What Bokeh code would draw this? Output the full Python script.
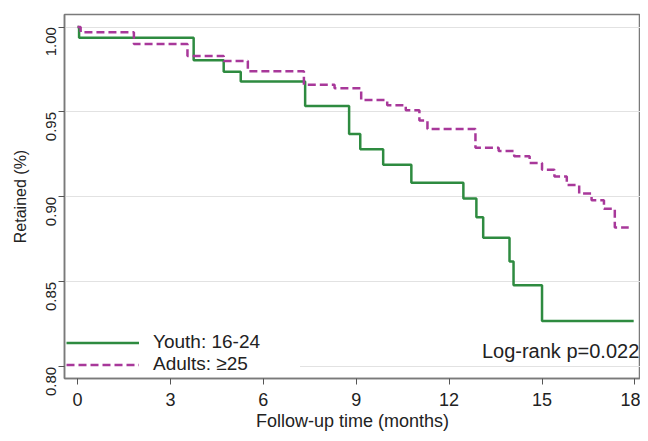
from bokeh.plotting import figure
from bokeh.models import Range1d, FixedTicker, Legend, LegendItem, Label
from bokeh.embed import file_html
from bokeh.resources import INLINE
import math

# ---- data ----
youth_time = [0, 0.05, 3.75, 4.72, 5.27, 7.35, 8.77, 9.13, 9.87, 10.78, 12.46, 12.88, 13.1, 13.95, 14.08, 15.0, 17.96]
youth_surv = [1.0, 0.9937, 0.9805, 0.9737, 0.968, 0.9536, 0.937, 0.928, 0.919, 0.9084, 0.899, 0.888, 0.876, 0.862, 0.848, 0.827, 0.827]

adult_time = [0, 0.1, 1.82, 3.55, 4.72, 5.5, 7.31, 8.3, 9.16, 10.0, 10.6, 11.04, 11.3, 12.85, 13.6, 14.1, 14.6, 15.0, 15.4, 15.8, 16.2, 16.6, 17.0, 17.35, 17.8]
adult_surv = [1.0, 0.997, 0.990, 0.983, 0.980, 0.974, 0.966, 0.964, 0.957, 0.954, 0.951, 0.945, 0.940, 0.929, 0.927, 0.924, 0.920, 0.916, 0.912, 0.907, 0.902, 0.898, 0.893, 0.882, 0.882]

x_ticks = [0, 3, 6, 9, 12, 15, 18]
y_ticks = [0.80, 0.85, 0.90, 0.95, 1.00]
y_tick_labels = ["0.80", "0.85", "0.90", "0.95", "1.00"]

series_labels = ["Youth: 16-24", "Adults: \u226525"]
annotation = "Log-rank p=0.022"

FONT = "Liberation Sans"
TXT = "#222222"
GREEN = "#2e8b40"
MAGENTA = "#a8389a"

p = figure(width=640, height=433, output_backend="svg", toolbar_location=None,
           x_range=Range1d(-0.421, 18.18), y_range=Range1d(0.7931, 1.0074),
           min_border_left=64, min_border_right=0, min_border_top=14, min_border_bottom=45)

p.outline_line_color = "#7a7a7a"
p.outline_line_width = 1.5
p.background_fill_color = "white"

# grid
p.xgrid.grid_line_color = None
p.ygrid.grid_line_color = "#e2e2e2"
p.ygrid.grid_line_width = 1
p.ygrid.ticker = FixedTicker(ticks=y_ticks)

# axes
p.xaxis.ticker = FixedTicker(ticks=x_ticks)
p.yaxis.ticker = FixedTicker(ticks=y_ticks)
p.yaxis.major_label_overrides = {t: l for t, l in zip(y_ticks, y_tick_labels)}
p.yaxis.major_label_orientation = math.pi / 2
p.xaxis.axis_label = "Follow-up time (months)"
p.yaxis.axis_label = "Retained (%)"
for ax in (p.xaxis, p.yaxis):
    ax.axis_line_color = "#7a7a7a"
    ax.axis_line_width = 1.5
    ax.major_tick_line_color = "#555555"
    ax.major_tick_out = 6
    ax.major_tick_in = 0
    ax.minor_tick_line_color = None
    ax.major_label_text_font = FONT
    ax.major_label_text_color = TXT
    ax.axis_label_text_font = FONT
    ax.axis_label_text_color = TXT
    ax.axis_label_text_font_style = "normal"
p.xaxis.major_label_text_font_size = "18px"
p.yaxis.major_label_text_font_size = "15px"
p.xaxis.axis_label_text_font_size = "18px"
p.yaxis.axis_label_text_font_size = "16px"
p.xaxis.major_label_standoff = 8
p.xaxis.axis_label_standoff = 2
p.yaxis.major_label_standoff = 7
p.yaxis.axis_label_standoff = 10

# curves
r_youth = p.step(youth_time, youth_surv, mode="after", line_color=GREEN, line_width=2.5)
r_adult = p.step(adult_time, adult_surv, mode="after", line_color=MAGENTA, line_width=2.5,
                 line_dash="8 4")

legend = Legend(items=[LegendItem(label=series_labels[0], renderers=[r_youth]),
                       LegendItem(label=series_labels[1], renderers=[r_adult])],
                location=(2, 3), margin=0, padding=14, spacing=0,
                glyph_width=73, glyph_height=21, label_height=21, label_width=147,
                label_standoff=14, border_line_color=None,
                background_fill_color="white", background_fill_alpha=1.0,
                label_text_font=FONT, label_text_font_size="19px", label_text_color=TXT)
p.add_layout(legend)

p.add_layout(Label(x=18.14, y=0.8092, text=annotation, text_align="right",
                   text_baseline="middle", text_font=FONT, text_font_size="20px",
                   text_color=TXT))

open("out.html", "w").write(file_html(p, INLINE))
